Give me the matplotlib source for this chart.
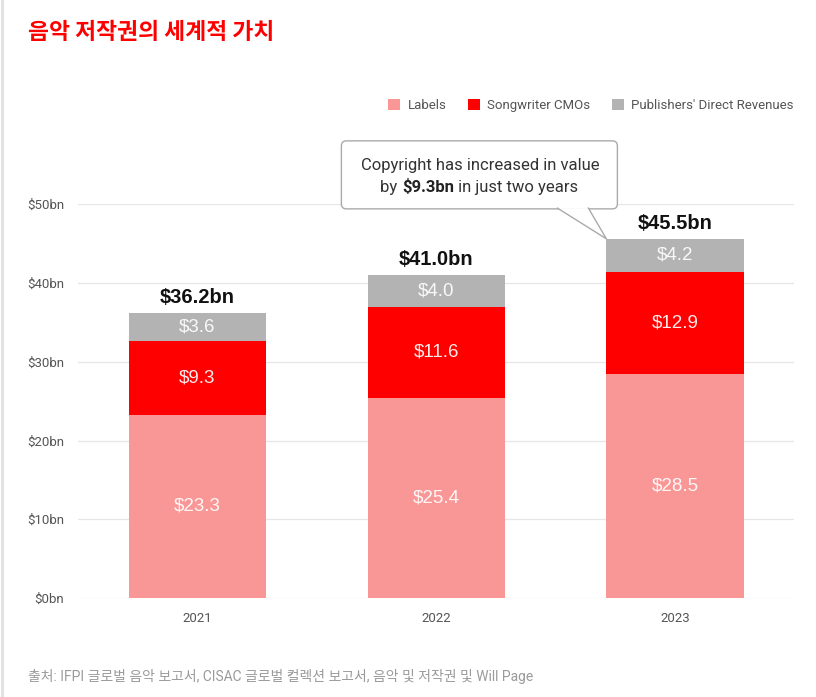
import numpy as np
import matplotlib
matplotlib.use('Agg')
import matplotlib.pyplot as plt
from matplotlib.patches import FancyBboxPatch, Polygon, Patch
from matplotlib.lines import Line2D
from matplotlib.transforms import IdentityTransform

plt.rcParams['font.family'] = ['Roboto', 'Noto Sans CJK KR', 'DejaVu Sans']

years = ['2021', '2022', '2023']
labels_rev = [23.3, 25.4, 28.5]
cmo_rev = [9.3, 11.6, 12.9]
pub_rev = [3.6, 4.0, 4.2]
totals = ['$36.2bn', '$41.0bn', '$45.5bn']
series_names = ['Labels', 'Songwriter CMOs', "Publishers' Direct Revenues"]
colors = ['#F99696', '#FF0000', '#B3B3B3']
yticks = [0, 10, 20, 30, 40, 50]

fig = plt.figure(figsize=(8.16, 6.97), dpi=100)
ax = fig.add_axes([0.0956, 0.142, 0.878, 0.565])

x = np.arange(len(years))
w = 0.575
bottoms = np.zeros(len(years))
for vals, col in zip([labels_rev, cmo_rev, pub_rev], colors):
    ax.bar(x, vals, w, bottom=bottoms, color=col, zorder=2)
    for xi, b, v in zip(x, bottoms, vals):
        ax.text(xi, b + v / 2, '\\$%.1f' % v, ha='center', va='center',
                color='white', alpha=0.92, fontsize=13.5, zorder=3,
                family='Liberation Sans')
    bottoms = bottoms + np.array(vals)

for xi, top, t in zip(x, bottoms, totals):
    ax.text(xi, top + 0.8, t.replace('$', '\\$'), ha='center', va='bottom',
            fontsize=14.5, fontweight='bold', color='#111111', family='Liberation Sans')

ax.set_xlim(-0.5, 2.5)
ax.set_ylim(0, 50)
ax.set_yticks(yticks)
ax.set_yticklabels(['\\$%dbn' % v for v in yticks])
ax.set_xticks(x)
ax.set_xticklabels(years)
ax.tick_params(length=0, labelsize=9.5, labelcolor='#555555')
ax.tick_params(axis='y', pad=10)
ax.tick_params(axis='x', pad=10)
ax.grid(axis='y', color='#E6E6E6', linewidth=0.9, zorder=0)
for s in ax.spines.values():
    s.set_visible(False)

# legend
handles = [Patch(facecolor=c, edgecolor='none') for c in colors]
fig.legend(handles, series_names, loc='center right', bbox_to_anchor=(0.973, 0.849),
           ncol=3, frameon=False, fontsize=9.5, handlelength=0.9, handleheight=0.9,
           handletextpad=0.6, columnspacing=1.6, borderpad=0, borderaxespad=0,
           labelcolor='#555555')

# callout pointing to the 2023 bar
tip = ax.transData.transform((x[2] - w / 2, bottoms[2]))
bx0, bx1 = tip[0] - 265, tip[0] + 11
by0, by1 = tip[1] + 30, tip[1] + 98
box = FancyBboxPatch((bx0, by0), bx1 - bx0, by1 - by0,
                     boxstyle='round,pad=0,rounding_size=5', transform=IdentityTransform(),
                     facecolor='white', edgecolor='#AAAAAA', linewidth=1, zorder=5)
fig.patches.append(box)
pts = [(tip[0] - 49, by0 + 0.8), (tip[0], tip[1]), (tip[0] - 18, by0 + 0.8)]
fig.patches.append(Polygon(pts, closed=False, transform=IdentityTransform(),
                           facecolor='white', edgecolor='none', zorder=6))
fig.lines.append(Line2D([p[0] for p in pts], [p[1] for p in pts],
                        transform=IdentityTransform(), color='#AAAAAA', linewidth=1, zorder=7))
cx = (bx0 + bx1) / 2 + 1
fig.text(cx, by1 - 29, 'Copyright has increased in value', transform=IdentityTransform(),
         ha='center', va='baseline', fontsize=12, color='#333333', zorder=8)
t1 = fig.text(bx0 + 39, by1 - 54, 'by ', transform=IdentityTransform(),
              ha='left', va='bottom', fontsize=12, color='#333333', zorder=8)
t2 = fig.add_artist(plt.Annotation('\\$9.3bn', xy=(1, 0), xycoords=t1, ha='left', va='bottom',
                                   fontsize=12, fontweight='bold', color='#222222', zorder=8))
fig.add_artist(plt.Annotation(' in just two years', xy=(1, 0), xycoords=t2, ha='left',
                              va='bottom', fontsize=12, color='#333333', zorder=8))

# title, source, left border
fig.text(0.034, 0.953, '음악 저작권의 세계적 가치', ha='left', va='center',
         fontsize=16.4, fontweight='bold', color='#FF0000',
         family=['Noto Sans CJK KR', 'DejaVu Sans'])
fig.text(0.034, 0.029, '출처: IFPI 글로벌 음악 보고서, CISAC 글로벌 컬렉션 보고서, 음악 및 저작권 및 Will Page',
         ha='left', va='center', fontsize=10, color='#9A9A9A',
         family=['Roboto', 'Noto Sans CJK KR', 'DejaVu Sans'])
fig.lines.append(Line2D([0.002, 0.002], [0, 1], transform=fig.transFigure,
                        color='#E0E0E0', linewidth=2))

fig.savefig('out.png', dpi=100)
